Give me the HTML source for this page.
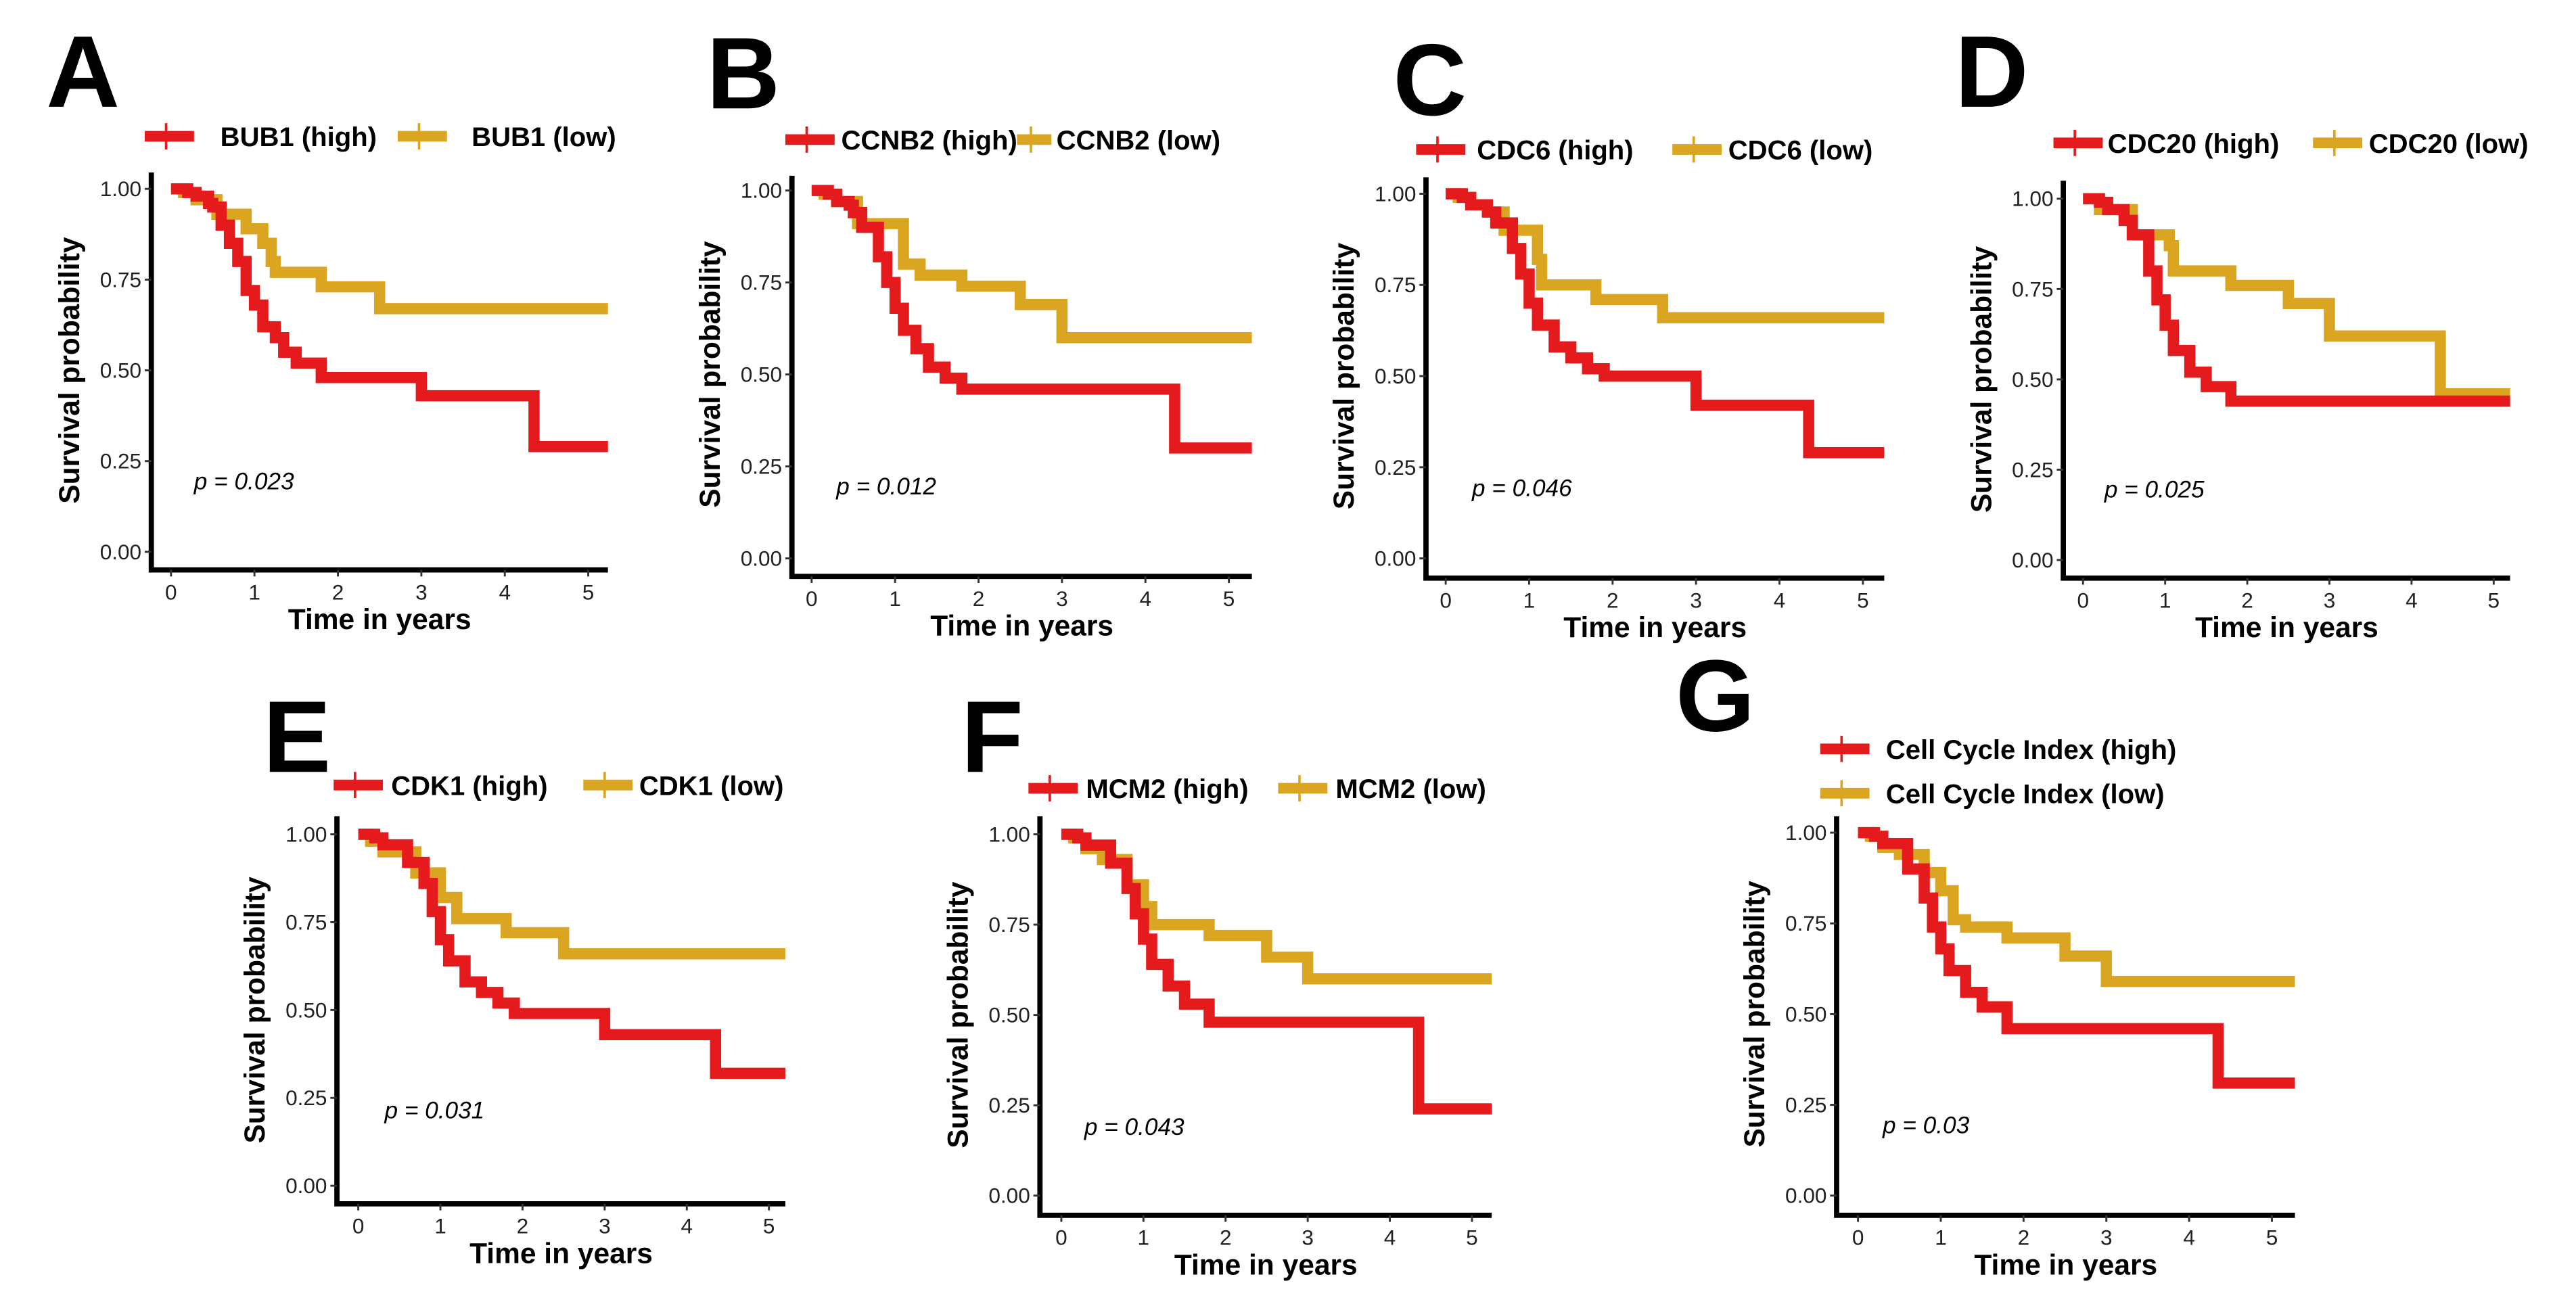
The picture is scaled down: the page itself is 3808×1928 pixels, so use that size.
<!DOCTYPE html>
<html><head><meta charset="utf-8"><style>
html,body{margin:0;padding:0;background:#fff;}
svg{display:block;}
text{font-family:"Liberation Sans",Arial,sans-serif;}
</style></head><body>
<svg id="fig" width="3808" height="1928" viewBox="0 0 1568 794" xmlns="http://www.w3.org/2000/svg"></svg>
<script>
const panelLetters = ["A","B","C","D","E","F","G"];
const highLabels = ["BUB1 (high)","CCNB2 (high)","CDC6 (high)","CDC20 (high)","CDK1 (high)","MCM2 (high)","Cell Cycle Index (high)"];
const lowLabels = ["BUB1 (low)","CCNB2 (low)","CDC6 (low)","CDC20 (low)","CDK1 (low)","MCM2 (low)","Cell Cycle Index (low)"];
const pValues = ["p = 0.023","p = 0.012","p = 0.046","p = 0.025","p = 0.031","p = 0.043","p = 0.03"];
const xTicks = [0,1,2,3,4,5];
const yTicks = [0,0.25,0.5,0.75,1];
const yTickLabels = ["0.00","0.25","0.50","0.75","1.00"];
// step curves: [time, survival]
const highA = [[0,1],[0.2,0.99],[0.3,0.98],[0.45,0.96],[0.5,0.95],[0.6,0.9],[0.7,0.85],[0.8,0.8],[0.9,0.72],[1.0,0.68],[1.1,0.62],[1.25,0.59],[1.35,0.55],[1.5,0.52],[1.8,0.48],[3.0,0.43],[4.35,0.29]];
const lowA = [[0,1],[0.15,0.99],[0.3,0.97],[0.55,0.93],[0.9,0.89],[1.1,0.85],[1.2,0.8],[1.25,0.77],[1.8,0.73],[2.5,0.67]];
const highB = [[0,1],[0.2,0.99],[0.3,0.97],[0.45,0.96],[0.5,0.94],[0.6,0.9],[0.8,0.82],[0.9,0.75],[1.0,0.68],[1.1,0.62],[1.25,0.57],[1.4,0.52],[1.6,0.49],[1.8,0.46],[4.35,0.30]];
const lowB = [[0,1],[0.15,0.99],[0.3,0.97],[0.55,0.91],[1.1,0.8],[1.3,0.77],[1.8,0.74],[2.5,0.69],[3.0,0.6]];
const highC = [[0,1],[0.2,0.99],[0.3,0.97],[0.5,0.95],[0.6,0.92],[0.8,0.85],[0.9,0.78],[1.0,0.7],[1.1,0.64],[1.3,0.58],[1.5,0.55],[1.7,0.52],[1.9,0.5],[3.0,0.42],[4.35,0.29]];
const lowC = [[0,1],[0.15,0.99],[0.3,0.97],[0.5,0.95],[0.7,0.9],[1.1,0.82],[1.15,0.75],[1.8,0.71],[2.6,0.66]];
const highD = [[0,1],[0.2,0.99],[0.3,0.97],[0.5,0.94],[0.6,0.9],[0.8,0.8],[0.9,0.72],[1.0,0.65],[1.1,0.58],[1.3,0.52],[1.5,0.48],[1.8,0.44]];
const lowD = [[0,1],[0.2,0.97],[0.6,0.9],[1.05,0.87],[1.1,0.8],[1.8,0.76],[2.5,0.71],[3.0,0.62],[4.35,0.46]];
const highE = [[0,1],[0.2,0.99],[0.3,0.97],[0.6,0.92],[0.8,0.86],[0.9,0.78],[1.0,0.7],[1.1,0.64],[1.3,0.58],[1.5,0.55],[1.7,0.52],[1.9,0.49],[3.0,0.43],[4.35,0.32]];
const lowE = [[0,1],[0.15,0.98],[0.3,0.95],[0.7,0.89],[1.0,0.82],[1.2,0.76],[1.8,0.72],[2.5,0.66]];
const highF = [[0,1],[0.2,0.99],[0.3,0.97],[0.6,0.92],[0.8,0.85],[0.9,0.78],[1.0,0.71],[1.1,0.64],[1.3,0.58],[1.5,0.53],[1.8,0.48],[4.35,0.24]];
const lowF = [[0,1],[0.15,0.99],[0.3,0.96],[0.5,0.93],[0.8,0.86],[1.0,0.8],[1.1,0.75],[1.8,0.72],[2.5,0.66],[3.0,0.6]];
const highG = [[0,1],[0.2,0.99],[0.3,0.97],[0.6,0.9],[0.8,0.82],[0.9,0.74],[1.0,0.68],[1.1,0.62],[1.3,0.56],[1.5,0.52],[1.8,0.46],[4.35,0.31]];
const lowG = [[0,1],[0.15,0.99],[0.3,0.96],[0.5,0.94],[0.8,0.89],[1.0,0.84],[1.15,0.76],[1.3,0.74],[1.8,0.71],[2.5,0.66],[3.0,0.59]];
const highSeries = [highA,highB,highC,highD,highE,highF,highG];
const lowSeries = [lowA,lowB,lowC,lowD,lowE,lowF,lowG];

// layout (viewBox units)
const L = [
 {ax:92,top:105,bot:347,x0:104,x5:358,right:370,y1:115,y0:336,letter:[28,65],leg:[[88,83,134],[242,83,287]],p:[118,298]},
 {ax:482,top:107,bot:351,x0:494,x5:748,right:762,y1:116,y0:340,letter:[430,66],leg:[[478,85,512],[619,85,643]],p:[509,301]},
 {ax:868,top:108,bot:352,x0:880,x5:1134,right:1147,y1:118,y0:340,letter:[848,70],leg:[[862,91,899],[1018,91,1052]],p:[896,302]},
 {ax:1256,top:110,bot:352,x0:1268,x5:1518,right:1528,y1:121,y0:341,letter:[1190,65],leg:[[1250,87,1283],[1408,87,1442]],p:[1281,303]},
 {ax:205,top:497,bot:733,x0:218,x5:468,right:478,y1:508,y0:722,letter:[160,470],leg:[[203,478,238],[355,478,389]],p:[234,681]},
 {ax:633,top:497,bot:740,x0:646,x5:896,right:908,y1:508,y0:728,letter:[585,470],leg:[[626,480,661],[778,480,813]],p:[660,691]},
 {ax:1118,top:497,bot:740,x0:1131,x5:1383,right:1397,y1:507,y0:728,letter:[1020,445],leg:[[1108,456,1148],[1108,483,1148]],p:[1146,690]}
];
const RED="#e41a1c", GOLD="#daa520";
const svg=document.getElementById('fig');
const NS="http://www.w3.org/2000/svg";
function mk(tag,attrs,parent,txt){const e=document.createElementNS(NS,tag);for(const k in attrs)e.setAttribute(k,attrs[k]);if(txt!==undefined)e.textContent=txt;parent.appendChild(e);return e;}

L.forEach((c,i)=>{
  const g=mk('g',{},svg);
  
  
  const xs=t=>c.x0+(c.x5-c.x0)*t/5;
  const ys=v=>c.y0+(c.y1-c.y0)*v;
  const lt=mk('text',{x:c.letter[0],y:c.letter[1],'font-size':62,'font-weight':'bold'},g,panelLetters[i]);
  
  
  // legend
  [[highLabels[i],RED],[lowLabels[i],GOLD]].forEach((it,j)=>{
    const [sx,sy,tx]=c.leg[j];
    const ex=Math.min(sx+30,tx-3);
    const lg=mk('g',{},g);
    
    
    mk('line',{x1:sx,x2:ex,y1:sy,y2:sy,stroke:it[1],'stroke-width':6.5},lg);
    mk('line',{x1:(sx+ex)/2-2,x2:(sx+ex)/2-2,y1:sy-8,y2:sy+8,stroke:it[1],'stroke-width':1.5},lg);
    mk('text',{x:tx,y:sy+6,'font-size':16.5,'font-weight':'bold'},lg,it[0]);
  });
  // curves
  [[lowSeries[i],GOLD,'low'],[highSeries[i],RED,'high']].forEach(s=>{
    const pts=s[0];let d='M'+xs(pts[0][0])+','+ys(pts[0][1]);
    for(let k=1;k<pts.length;k++){d+=' H'+xs(pts[k][0])+' V'+ys(pts[k][1]);}
    d+=' H'+c.right;
    const p=mk('path',{d:d,fill:'none',stroke:s[1],'stroke-width':6.8,'stroke-linejoin':'miter'},g);
    
    
  });
  // axes
  const ax=mk('path',{d:`M${c.ax},${c.top} V${c.bot} H${c.right}`,fill:'none',stroke:'#000','stroke-width':3.2},g);
  
  
  yTicks.forEach((v,k)=>{
    mk('line',{x1:c.ax-4,x2:c.ax,y1:ys(v),y2:ys(v),stroke:'#333','stroke-width':1.2},g);
    mk('text',{x:c.ax-6,y:ys(v)+4.5,'font-size':13,'text-anchor':'end',fill:'#222'},g,yTickLabels[k]);
  });
  xTicks.forEach(t=>{
    mk('line',{x1:xs(t),x2:xs(t),y1:c.bot,y2:c.bot+4,stroke:'#333','stroke-width':1.2},g);
    mk('text',{x:xs(t),y:c.bot+18,'font-size':13,'text-anchor':'middle',fill:'#222'},g,String(t));
  });
  const xt=mk('text',{x:(c.ax+c.right)/2,y:c.bot+36,'font-size':17.5,'font-weight':'bold','text-anchor':'middle'},g,'Time in years');
  
  
  const cy=(c.y0+c.y1)/2;
  const yt=mk('text',{x:0,y:0,'font-size':17.5,'font-weight':'bold','text-anchor':'middle',transform:`translate(${c.ax-44},${cy}) rotate(-90)`},g,'Survival probability');
  
  
  const pv=mk('text',{x:c.p[0],y:c.p[1],'font-size':14.5,'font-style':'italic'},g,pValues[i]);
  
  
});
</script>
</body></html>
